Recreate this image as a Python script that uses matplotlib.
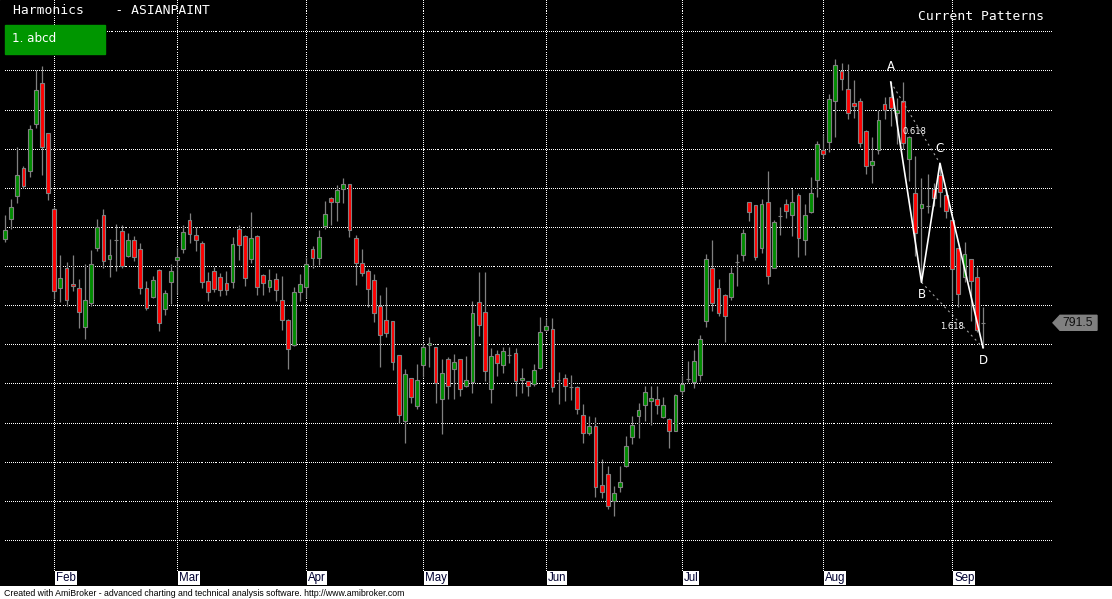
import numpy as np
import matplotlib.pyplot as plt
from matplotlib.patches import Polygon, Rectangle

plt.rcParams['lines.scale_dashes'] = False

# daily OHLC, ASIANPAINT
opens = [834.5, 844.8, 856.1, 870.4, 869.1, 893.0, 914.0, 888.4, 849.9, 809.2,
         819.7, 811.5, 809.4, 789.2, 801.7, 829.7, 846.8, 824.3, 833.7, 838.6,
         825.6, 834.0, 829.4, 809.4, 804.6, 818.7, 798.6, 812.5, 823.4, 829.4,
         844.1, 836.6, 832.3, 812.8, 818.0, 814.9, 811.8, 812.6, 839.5, 835.9,
         824.1, 835.9, 815.9, 809.7, 813.8, 803.1, 792.8, 780.0, 807.5, 809.7,
         829.2, 824.6, 840.9, 855.4, 853.3, 860.0, 862.2, 834.9, 822.1, 818.0,
         813.3, 800.0, 792.8, 792.3, 774.9, 741.5, 763.1, 749.2, 769.7, 780.0,
         779.0, 752.8, 772.8, 767.7, 772.8, 759.0, 761.4, 802.1, 796.9, 757.9,
         775.4, 769.7, 775.0, 775.9, 762.1, 761.5, 760.0, 768.2, 787.7, 788.5,
         762.4, 763.4, 758.8, 758.8, 744.4, 735.2, 739.0, 708.5, 714.2, 700.3,
         707.5, 718.3, 733.2, 743.9, 749.6, 751.6, 752.6, 743.4, 742.4, 736.2,
         756.8, 762.9, 761.4, 764.6, 792.5, 819.7, 809.4, 805.8, 804.8, 822.6,
         826.3, 853.0, 851.5, 829.9, 853.0, 819.7, 846.2, 852.0, 846.8, 856.6,
         834.0, 847.9, 864.3, 879.7, 883.8, 904.8, 920.2, 910.9, 903.8, 904.8,
         889.8, 872.0, 879.8, 903.6, 906.7, 898.5, 904.7, 875.0, 857.6, 850.0,
         851.3, 859.7, 866.8, 856.6, 843.8, 829.5, 814.7, 823.9, 814.7, 791.5]
highs = [846.5, 855.0, 881.2, 871.5, 892.6, 920.9, 922.6, 888.7, 850.8, 826.0,
         822.6, 826.0, 814.0, 821.4, 828.9, 844.4, 849.6, 834.2, 841.9, 841.4,
         837.4, 835.7, 832.3, 812.8, 815.4, 819.0, 808.5, 821.4, 830.3, 841.4,
         847.4, 840.5, 833.5, 817.6, 820.0, 816.9, 817.9, 835.4, 841.7, 836.2,
         848.0, 836.6, 816.2, 819.0, 816.9, 815.6, 793.2, 809.7, 816.6, 825.1,
         830.9, 838.8, 854.0, 855.7, 861.7, 865.3, 862.6, 836.6, 829.4, 819.0,
         816.6, 805.8, 809.6, 792.6, 775.2, 767.7, 763.4, 770.4, 781.4, 784.4,
         779.3, 773.0, 773.8, 775.6, 773.2, 774.5, 802.9, 817.6, 817.6, 778.5,
         777.4, 779.0, 779.0, 778.5, 768.2, 761.9, 770.3, 794.4, 793.8, 793.7,
         766.3, 765.1, 764.6, 759.1, 750.1, 743.9, 743.1, 721.9, 718.3, 708.0,
         718.3, 733.7, 743.9, 750.6, 759.3, 759.3, 759.3, 753.7, 742.7, 755.0,
         765.0, 771.8, 777.8, 785.5, 826.8, 834.0, 814.0, 806.2, 820.0, 826.8,
         839.7, 853.3, 851.8, 855.0, 868.9, 844.3, 850.9, 855.0, 859.7, 857.6,
         852.0, 865.8, 884.3, 887.9, 908.4, 926.3, 924.3, 923.8, 915.6, 906.3,
         890.2, 886.3, 900.1, 907.1, 914.6, 906.2, 914.4, 887.0, 876.7, 865.7,
         867.4, 862.8, 873.0, 860.2, 844.2, 829.9, 832.6, 824.3, 819.8, 799.7]
lows = [833.0, 839.7, 852.8, 860.5, 865.8, 891.3, 867.0, 854.5, 803.8, 802.1,
        800.3, 807.7, 788.7, 783.2, 800.0, 828.2, 819.7, 814.9, 817.9, 819.7,
        825.0, 823.1, 806.3, 797.8, 804.0, 787.2, 795.7, 801.2, 806.3, 827.2,
        832.5, 828.2, 809.2, 802.4, 807.0, 805.3, 805.8, 809.2, 823.4, 810.1,
        822.1, 805.8, 805.8, 807.5, 802.9, 788.0, 768.0, 779.5, 802.4, 804.1,
        819.5, 821.2, 839.5, 841.5, 843.4, 852.8, 835.2, 810.9, 815.2, 799.8,
        792.1, 769.1, 784.4, 767.4, 740.3, 730.1, 750.3, 747.2, 763.9, 768.7,
        750.3, 734.9, 752.8, 752.3, 754.2, 758.5, 755.4, 784.8, 761.9, 750.3,
        764.4, 766.0, 771.1, 754.2, 755.4, 754.2, 759.0, 768.0, 787.2, 756.1,
        750.1, 751.5, 752.1, 745.0, 729.9, 734.2, 702.2, 701.9, 696.1, 692.5,
        705.0, 718.0, 729.6, 732.5, 741.5, 739.3, 745.0, 743.0, 727.5, 736.0,
        754.7, 761.4, 758.3, 762.0, 789.6, 797.4, 794.9, 781.5, 803.2, 810.3,
        823.1, 843.6, 823.6, 827.4, 811.5, 819.5, 836.6, 845.3, 835.9, 825.3,
        826.3, 847.5, 855.6, 875.6, 878.6, 886.3, 910.4, 895.6, 896.1, 881.2,
        867.4, 862.8, 878.0, 895.5, 892.0, 882.7, 880.1, 864.1, 825.8, 812.2,
        847.4, 851.0, 850.5, 845.2, 803.1, 799.4, 812.2, 792.4, 786.9, 778.8]
closes = [839.1, 850.9, 866.8, 861.5, 890.4, 910.4, 881.2, 857.6, 808.0, 814.5,
          803.2, 810.3, 796.9, 803.2, 821.7, 840.7, 823.2, 826.3, 833.7, 820.5,
          834.0, 825.3, 809.2, 798.9, 813.5, 791.4, 806.8, 817.9, 825.1, 838.0,
          836.8, 833.7, 812.6, 807.5, 808.7, 808.2, 808.2, 831.8, 831.1, 814.4,
          834.9, 809.7, 811.8, 813.3, 808.2, 792.8, 777.9, 807.2, 811.3, 821.5,
          824.6, 835.4, 847.2, 853.3, 859.3, 862.2, 839.1, 822.1, 816.9, 808.7,
          796.4, 785.1, 786.2, 771.3, 744.6, 765.1, 753.8, 762.1, 779.0, 781.0,
          760.5, 765.6, 759.0, 771.3, 757.9, 762.1, 796.4, 790.3, 766.7, 774.4,
          770.8, 776.9, 775.0, 761.5, 763.1, 759.0, 767.2, 786.7, 789.7, 758.8,
          762.4, 759.3, 758.8, 747.5, 735.2, 739.0, 707.5, 705.0, 697.8, 704.4,
          710.1, 728.5, 739.3, 747.0, 756.2, 753.2, 749.6, 749.6, 736.2, 754.7,
          760.3, 762.9, 772.1, 783.3, 824.3, 801.7, 796.6, 795.0, 817.1, 822.6,
          837.6, 847.9, 825.3, 852.0, 815.6, 843.2, 846.2, 848.9, 853.0, 835.0,
          846.8, 857.6, 882.7, 877.6, 905.8, 923.2, 916.1, 898.6, 902.2, 883.2,
          871.6, 874.0, 895.0, 900.1, 901.1, 900.1, 883.2, 886.6, 837.2, 852.0,
          851.3, 855.1, 858.2, 848.5, 818.8, 806.0, 826.5, 812.7, 787.8, 791.5]

months = ["Feb", "Mar", "Apr", "May", "Jun", "Jul", "Aug", "Sep"]
month_start = [8, 28, 49, 68, 88, 110, 133, 154]

# abcd pattern: A high, B low, C high, D low
pat_names = ["A", "B", "C", "D"]
pat_idx = [144, 149, 152, 159]
pat_ratios = ["0.618", "1.618"]

W, H = 1112, 599
step = 6.151          # px per bar
ppx = 20 / 39.125     # price per px


def px2i(px):
    return (px - 5) / step


def py2p(py):
    return 940 - (py - 32.3) * ppx


fig = plt.figure(figsize=(W / 100, H / 100), dpi=100, facecolor="white")
ax = fig.add_axes([0, 13 / H, 1, 586 / H])
ax.set_facecolor("black")
ax.set_xlim(px2i(0), px2i(W))
ax.set_ylim(py2p(586), py2p(0))
ax.axis("off")
ax.add_patch(Rectangle((0, 0), 1, 1, transform=ax.transAxes, color="black", zorder=0))

# dotted grid, one pixel on / one off
gx = px2i(np.arange(4, 1052, 2) + 0.5)
for p in range(680, 941, 20):
    ax.plot(gx, np.full(len(gx), p), ",", color="white", zorder=1)
gy = py2p(np.arange(0, 571, 2) + 0.5)
for m in month_start:
    ax.plot(np.full(len(gy), m), gy, ",", color="white", zorder=1)

# candles
o = np.array(opens)
c = np.array(closes)
x = np.arange(len(o))
cols = np.where(c > o, "#008c00", np.where(c < o, "#ff0000", "#808080"))
ax.vlines(x, lows, highs, color="#808080", lw=0.9, zorder=2)
ax.bar(x, np.abs(c - o), bottom=np.minimum(o, c), width=0.62, color=cols,
       edgecolor="#808080", linewidth=0.8, zorder=3)

# pattern
pv = [highs[pat_idx[0]], lows[pat_idx[1]], highs[pat_idx[2]], lows[pat_idx[3]]]
ax.plot(pat_idx, pv, color="white", lw=1.2, zorder=5)
ax.plot([pat_idx[0], pat_idx[2]], [pv[0], pv[2]], color="#a0a0a0", lw=0.8,
        dashes=(1.5, 2.5), zorder=4)
ax.plot([pat_idx[1], pat_idx[3]], [pv[1], pv[3]], color="#a0a0a0", lw=0.8,
        dashes=(1.5, 2.5), zorder=4)
for k, nm in enumerate(pat_names):
    dy = 11 if k % 2 == 0 else -9
    ax.annotate(nm, (pat_idx[k], pv[k]), xytext=(0, dy), textcoords="offset points",
                ha="center", va="center", color="white", fontsize=8.5,
                family="DejaVu Sans", zorder=6)
ax.annotate(pat_ratios[0], ((pat_idx[0] + pat_idx[2]) / 2, (pv[0] + pv[2]) / 2),
            xytext=(-1, -6), textcoords="offset points", ha="center", va="center",
            color="white", fontsize=6, zorder=6)
ax.annotate(pat_ratios[1], ((pat_idx[1] + pat_idx[3]) / 2, (pv[1] + pv[3]) / 2),
            xytext=(0, -8), textcoords="offset points", ha="center", va="center",
            color="white", fontsize=6, zorder=6)

# month labels
for m, lab in zip(month_start, months):
    ax.text(m + 0.3, py2p(578), lab, ha="left", va="center", fontsize=8.3,
            family="Liberation Sans", color="#000030", zorder=6,
            bbox=dict(facecolor="white", edgecolor="none", pad=0.6))

# last price tag
yc = H - (32.3 + (940 - closes[-1]) / ppx)
tag = Polygon([(1053 / W, yc / H), (1060 / W, (yc + 7.5) / H), (1097 / W, (yc + 7.5) / H),
               (1097 / W, (yc - 7.5) / H), (1060 / W, (yc - 7.5) / H)],
              closed=True, transform=fig.transFigure, color="#808080", zorder=10)
fig.add_artist(tag)
fig.text(1078 / W, yc / H, f"{closes[-1]:.1f}", ha="center", va="center",
         fontsize=8.8, family="Liberation Sans", color="#101010", zorder=11)

# header
fig.text(13 / W, 1 - 11 / H, "Harmonics    - ASIANPAINT", ha="left", va="center",
         fontsize=9.4, family="DejaVu Sans Mono", color="white")
fig.text(918 / W, 1 - 16 / H, "Current Patterns", ha="left", va="center",
         fontsize=9.4, family="DejaVu Sans Mono", color="white")
fig.add_artist(Rectangle((5 / W, 1 - 54 / H), 100 / W, 29 / H, transform=fig.transFigure,
                         color="#009600", zorder=10))
fig.text(12 / W, 1 - 39 / H, "1. abcd", ha="left", va="center", fontsize=8.6,
         family="DejaVu Sans", color="white", zorder=11)

fig.text(4 / W, 1 - 593 / H,
         "Created with AmiBroker - advanced charting and technical analysis software. http://www.amibroker.com",
         ha="left", va="center", fontsize=6.3, family="Liberation Sans", color="black")

fig.savefig("out.png", dpi=100, facecolor="white")
